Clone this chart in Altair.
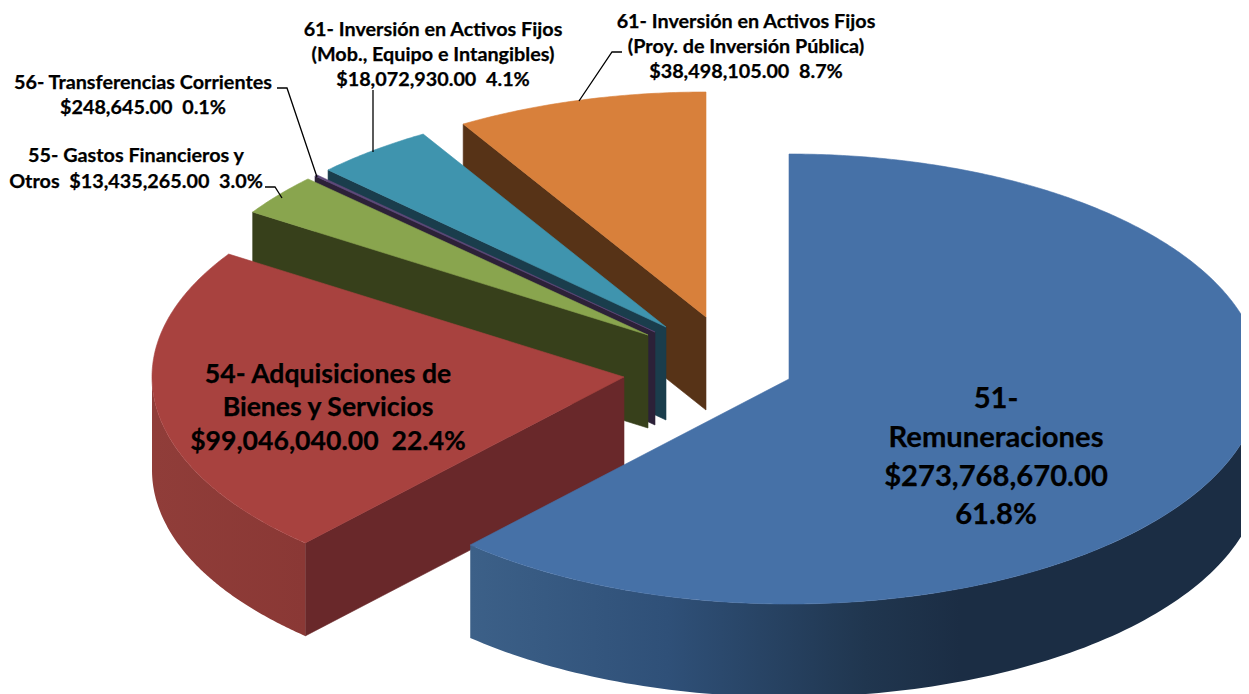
import numpy as np
import pandas as pd
import altair as alt

# Chart values
categories = ["51- Remuneraciones", "54- Adquisiciones de Bienes y Servicios",
              "55- Gastos Financieros y Otros", "56- Transferencias Corrientes",
              "61- Inversión en Activos Fijos (Mob., Equipo e Intangibles)",
              "61- Inversión en Activos Fijos (Proy. de Inversión Pública)"]
amounts = [273768670.00, 99046040.00, 13435265.00, 248645.00, 18072930.00, 38498105.00]
percents = [61.8, 22.4, 3.0, 0.1, 4.1, 8.7]

# Styles and layout
top_colors = ["#4671a7", "#a8423f", "#89a54e", "#604a7b", "#3f94ae", "#d8803b"]
cut_colors = ["#1b2d44", "#69282a", "#37401b", "#2c2138", "#1a3d4c", "#573317"]
apex_x = [789, 624, 648, 655, 666, 706]
apex_y = [379, 377, 335, 332, 327, 317]
RX, RY, DEPTH = 472, 225, 93
X_DOM, Y_DOM = [8, 1241], [8, 694]

def rim(i, a):
    t = np.radians(a)
    return apex_x[i] + RX * np.sin(t), apex_y[i] - RY * np.cos(t)

def poly(xs, ys, fill, clip=True):
    xs, ys = list(xs) + [xs[0]], list(ys) + [ys[0]]
    df = pd.DataFrame({"x": xs, "y": ys, "i": range(len(xs))})
    stroke = fill if isinstance(fill, str) else None
    kw = dict(stroke=stroke, strokeWidth=0.6) if stroke else dict(strokeWidth=0)
    return alt.Chart(df).mark_line(fill=fill, clip=clip, strokeJoin="round", **kw).encode(
        x=alt.X("x:Q", scale=alt.Scale(domain=X_DOM), axis=None),
        y=alt.Y("y:Q", scale=alt.Scale(domain=Y_DOM, reverse=True), axis=None),
        order=alt.Order("i:Q"),
    )

# The rounded percentages add up to 100.1, so the last slice ends at the full turn
edges = np.minimum(np.concatenate([[0], np.cumsum(percents) * 3.6]), 360)
layers = []
for i in [5, 4, 3, 2, 1, 0]:
    a0, a1 = edges[i], edges[i + 1]
    if i > 0:  # cut face below the leading edge
        rx, ry = rim(i, a0)
        layers.append(poly([apex_x[i], rx, rx, apex_x[i]],
                           [apex_y[i], ry, ry + DEPTH, apex_y[i] + DEPTH], cut_colors[i]))
    # outer wall, front half of the ellipse
    lo, hi = max(a0, 90), min(a1, 270)
    if hi > lo:
        ang = np.linspace(lo, hi, 120)
        xs, ys = rim(i, ang)
        if i == 0:
            fill = alt.Gradient(gradient="linear", x1=1, x2=0, y1=0, y2=0, stops=[
                alt.GradientStop(offset=0, color="#1b2d44"),
                alt.GradientStop(offset=0.38, color="#1b2d44"),
                alt.GradientStop(offset=0.5, color="#20364f"),
                alt.GradientStop(offset=0.75, color="#2f5078"),
                alt.GradientStop(offset=1, color="#3c6088")])
        else:
            fill = alt.Gradient(gradient="linear", x1=0, x2=1, y1=0, y2=0, stops=[
                alt.GradientStop(offset=0, color="#903d39"),
                alt.GradientStop(offset=1, color="#8a3835")])
        layers.append(poly(list(xs) + list(xs[::-1]),
                           list(ys) + list((ys + DEPTH)[::-1]), fill))
    # top surface
    ang = np.linspace(a0, a1, max(int(a1 - a0) * 2, 3))
    xs, ys = rim(i, ang)
    layers.append(poly([apex_x[i]] + list(xs), [apex_y[i]] + list(ys), top_colors[i]))

# Labels
NB = "\u00a0\u00a0"
small_text = ["61- Inversión en Activos Fijos", "(Proy. de Inversión Pública)", f"$38,498,105.00{NB}8.7%",
              "61- Inversión en Activos Fijos", "(Mob., Equipo e Intangibles)", f"$18,072,930.00{NB}4.1%",
              "56- Transferencias Corrientes", f"$248,645.00{NB}0.1%",
              "55- Gastos Financieros y", f"Otros{NB}$13,435,265.00{NB}3.0%"]
small_x = [746, 746, 746, 433, 433, 433, 143, 143, 136, 136]
small_y = [22, 47, 72, 30, 55, 80, 83, 108, 156, 182]
red_text = ["54- Adquisiciones de", "Bienes y Servicios", f"$99,046,040.00{NB}22.4%"]
red_x = [328, 328, 328]
red_y = [375, 408, 442]
blue_text = ["51-", "Remuneraciones", "$273,768,670.00", "61.8%"]
blue_x = [996, 996, 996, 996]
blue_y = [399, 438, 477, 515]

def text_layer(t, x, y, size):
    df = pd.DataFrame({"t": t, "x": x, "y": y})
    return alt.Chart(df).mark_text(font="Lato", fontWeight="bold", fontSize=size, color="#000000",
                                   stroke="#000000", strokeWidth=0.25,
                                   align="center", baseline="middle").encode(
        x=alt.X("x:Q", scale=alt.Scale(domain=X_DOM), axis=None),
        y=alt.Y("y:Q", scale=alt.Scale(domain=Y_DOM, reverse=True), axis=None),
        text="t:N")

# Leader lines
leader_id = [0, 0, 0, 1, 1, 2, 2, 2, 3, 3, 3]
leader_x = [579, 612, 622, 373, 373, 277, 287, 317, 265, 275, 282]
leader_y = [101, 52, 52, 152, 90, 88, 88, 177, 187, 187, 198]
leader_df = pd.DataFrame({"id": leader_id, "x": leader_x, "y": leader_y, "i": range(len(leader_x))})
leaders = alt.Chart(leader_df).mark_line(color="#000000", strokeWidth=1.3).encode(
    x=alt.X("x:Q", scale=alt.Scale(domain=X_DOM), axis=None),
    y=alt.Y("y:Q", scale=alt.Scale(domain=Y_DOM, reverse=True), axis=None),
    detail="id:N", order=alt.Order("i:Q"))

layers += [leaders, text_layer(small_text, small_x, small_y, 19.8),
           text_layer(red_text, red_x, red_y, 26.6), text_layer(blue_text, blue_x, blue_y, 29.2)]

chart = alt.layer(*layers).properties(
    width=1233, height=686, padding=0, autosize=alt.AutoSizeParams(type="none"), background="#ffffff"
).configure_view(strokeWidth=0)

chart.save("out.html", embed_options={"renderer": "svg", "actions": False})
